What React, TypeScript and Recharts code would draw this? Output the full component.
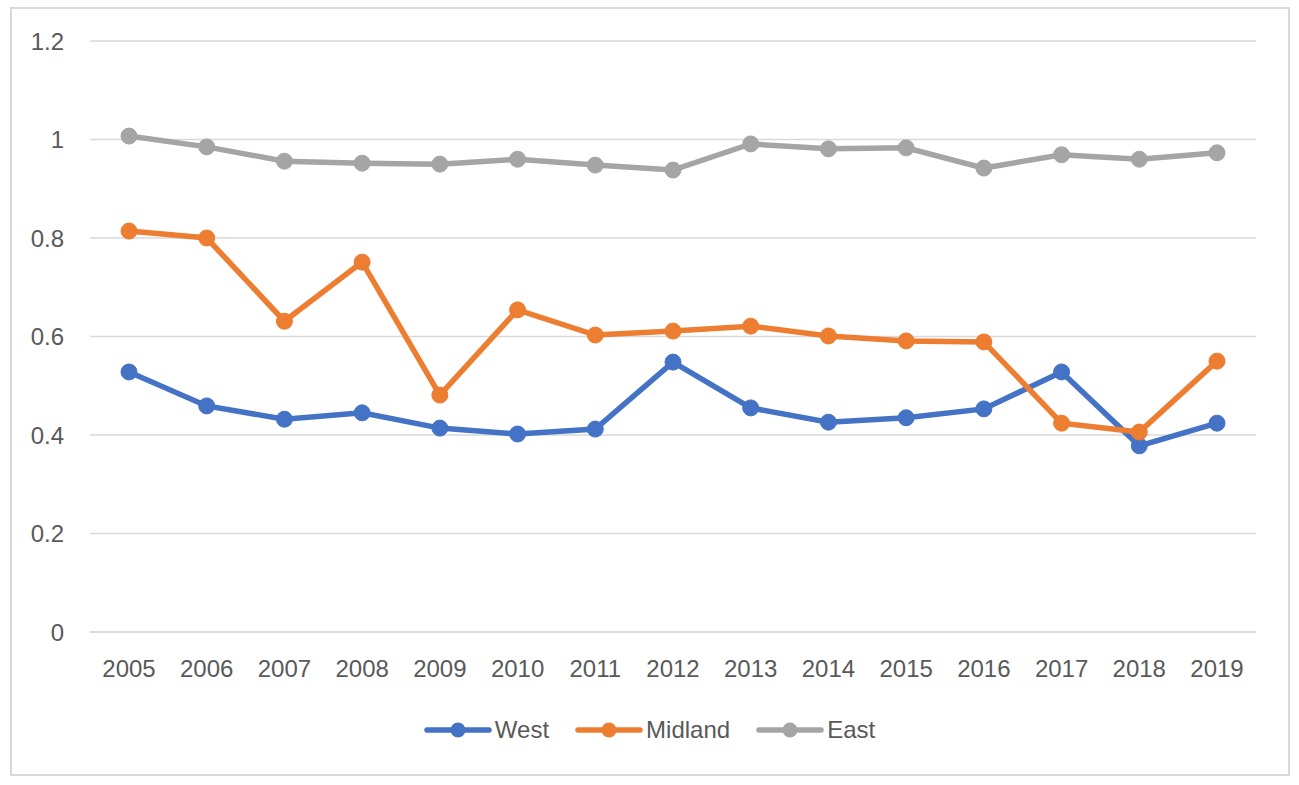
import { LineChart, Line, XAxis, YAxis, CartesianGrid } from "recharts"

const years = ["2005", "2006", "2007", "2008", "2009", "2010", "2011", "2012", "2013", "2014", "2015", "2016", "2017", "2018", "2019"]
const west = [0.528, 0.459, 0.432, 0.445, 0.414, 0.402, 0.412, 0.548, 0.455, 0.426, 0.435, 0.453, 0.528, 0.378, 0.424]
const midland = [0.814, 0.8, 0.631, 0.751, 0.481, 0.654, 0.603, 0.611, 0.621, 0.601, 0.591, 0.589, 0.424, 0.406, 0.55]
const east = [1.007, 0.985, 0.956, 0.952, 0.95, 0.96, 0.948, 0.938, 0.991, 0.981, 0.983, 0.942, 0.969, 0.96, 0.973]
const yTicks = [0, 0.2, 0.4, 0.6, 0.8, 1, 1.2]

const series = [
  { key: "West", values: west, color: "#4472C4" },
  { key: "Midland", values: midland, color: "#ED7D31" },
  { key: "East", values: east, color: "#A5A5A5" },
]

const data = years.map((y, i) => {
  const row: Record<string, string | number> = { year: y }
  series.forEach((s) => (row[s.key] = s.values[i]))
  return row
})

const font = "'Liberation Sans', Arial, sans-serif"

function LegendBox() {
  return (
    <div style={{ position: "absolute", left: 0, top: 716, width: 1299, display: "flex", justifyContent: "center", alignItems: "center", gap: 26, fontFamily: font, fontSize: 24, color: "#595959" }}>
      {series.map((s) => (
        <div key={s.key} style={{ display: "flex", alignItems: "center", gap: 3 }}>
          <svg width={68} height={22}>
            <line x1={3} y1={11} x2={65} y2={11} stroke={s.color} strokeWidth={5.5} strokeLinecap="round" />
            <circle cx={34} cy={11} r={7.5} fill={s.color} />
          </svg>
          <span>{s.key}</span>
        </div>
      ))}
    </div>
  )
}

export default function App() {
  return (
    <div style={{ position: "absolute", left: 0, top: 0, width: 1299, height: 785, background: "#fff" }}>
      <div style={{ position: "absolute", left: 10, top: 7, width: 1276, height: 765, border: "2px solid #d9d9d9" }} />
      <LineChart width={1299} height={785} data={data} margin={{ top: 41, right: 43, left: 30, bottom: 123 }}>
        <CartesianGrid vertical={false} stroke="#d9d9d9" strokeWidth={1.5} />
        <XAxis
          dataKey="year"
          height={30}
          padding={{ left: 39, right: 39 }}
          axisLine={{ stroke: "#d9d9d9", strokeWidth: 1.5 }}
          tickLine={false}
          tickMargin={22}
          interval={0}
          tick={{ fontSize: 24, fontFamily: font, fill: "#595959" }}
        />
        <YAxis
          width={60}
          domain={[0, 1.2]}
          ticks={yTicks}
          axisLine={false}
          tickLine={false}
          tickMargin={20}
          tick={{ fontSize: 24, fontFamily: font, fill: "#595959" }}
        />
        {series.map((s) => (
          <Line
            key={s.key}
            dataKey={s.key}
            stroke={s.color}
            strokeWidth={5.5}
            dot={{ r: 8, fill: s.color, stroke: s.color, strokeWidth: 1 }}
            isAnimationActive={false}
          />
        ))}
      </LineChart>
      <LegendBox />
    </div>
  )
}
